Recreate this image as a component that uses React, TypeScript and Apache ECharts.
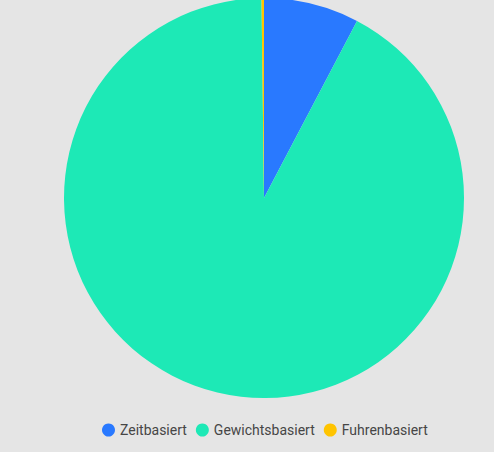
import React, { useEffect, useRef } from "react";
import * as echarts from "echarts";

const categories = ["Zeitbasiert", "Gewichtsbasiert", "Fuhrenbasiert"];
const values = [7.7, 92.1, 0.2];
const colors = ["#2979ff", "#1de9b6", "#ffc400"];

export default function App() {
  const ref = useRef<HTMLDivElement>(null);
  useEffect(() => {
    document.body.style.margin = "0";
    const chart = echarts.init(ref.current!, null, { renderer: "svg" });
    chart.setOption({
      animation: false,
      backgroundColor: "#e5e5e5",
      color: colors,
      legend: {
        data: categories,
        left: 97,
        top: 418,
        icon: "circle",
        itemWidth: 13,
        itemHeight: 13,
        itemGap: 9,
        textStyle: { color: "#464646", fontSize: 14, fontFamily: "Roboto" },
      },
      series: [
        {
          type: "pie",
          center: [264, 198],
          radius: 200,
          startAngle: 90,
          clockwise: true,
          label: { show: false },
          labelLine: { show: false },
          data: categories.map((name, i) => ({ name, value: values[i] })),
        },
      ],
    });
    return () => chart.dispose();
  }, []);
  return <div ref={ref} style={{ width: 494, height: 452 }} />;
}
